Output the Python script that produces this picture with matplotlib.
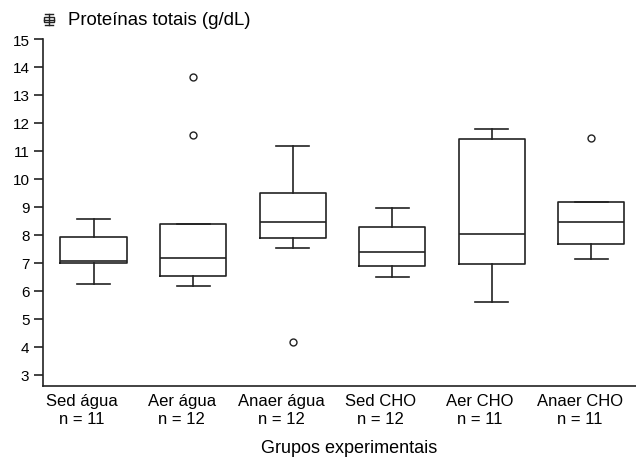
import matplotlib
matplotlib.use("Agg")
import matplotlib.pyplot as plt
from matplotlib.lines import Line2D
from matplotlib.patches import Rectangle
from matplotlib.transforms import ScaledTranslation

plt.rcParams['font.family'] = ['Liberation Sans', 'DejaVu Sans']

groups = ["Sed água", "Aer água", "Anaer água", "Sed CHO", "Aer CHO", "Anaer CHO"]
n_vals = [11, 12, 12, 12, 11, 11]
whislo = [6.22, 6.18, 7.53, 6.48, 5.59, 7.12]
q1 = [6.99, 6.51, 7.87, 6.87, 6.96, 7.66]
med = [7.06, 7.16, 8.46, 7.37, 8.03, 8.45]
q3 = [7.91, 8.39, 9.49, 8.28, 11.42, 9.16]
whishi = [8.56, 8.39, 11.19, 8.96, 11.78, 9.16]
fliers = [[], [11.57, 13.64], [4.16], [], [], [11.46]]

yticks = list(range(3, 16))

W, H = 636, 460
fig = plt.figure(figsize=(W / 100, H / 100), dpi=100)
ax = fig.add_axes([43.3 / W, 1 - 386.7 / H, 1 - 43.3 / W, (386.7 - 40) / H])

stats = []
for i, g in enumerate(groups):
    stats.append(dict(label=f"{g}\nn = {n_vals[i]}", whislo=whislo[i], q1=q1[i],
                      med=med[i], q3=q3[i], whishi=whishi[i], fliers=fliers[i]))

lw = 1.2
col = "#222222"
ax.bxp(stats, positions=range(1, len(groups) + 1), widths=0.665, showfliers=True,
       boxprops=dict(color=col, linewidth=lw),
       whiskerprops=dict(color=col, linewidth=lw),
       capprops=dict(color=col, linewidth=lw),
       medianprops=dict(color=col, linewidth=lw),
       flierprops=dict(marker='o', markerfacecolor='white', markeredgecolor=col,
                       markersize=5, markeredgewidth=1.0),
       capwidths=0.33)

ax.set_xlim(0.495, 6.45)
ax.set_ylim(2.6, 15)
ax.set_yticks(yticks)
ax.spines['top'].set_visible(False)
ax.spines['right'].set_visible(False)
for s in ['left', 'bottom']:
    ax.spines[s].set_linewidth(lw)
    ax.spines[s].set_color(col)
ax.tick_params(axis='y', length=6.5, width=lw, color=col, labelsize=11, pad=3.5)
ax.tick_params(axis='x', length=0, labelsize=12, pad=5)
shift = ScaledTranslation(-11.5 / 100, 0, fig.dpi_scale_trans)
for t in ax.get_xticklabels():
    t.set_linespacing(1.3)
    t.set_transform(t.get_transform() + shift)
ax.set_xlabel("Grupos experimentais", fontsize=13)
ax.xaxis.set_label_coords((349 - 43.3) / (636 - 43.3), -(449 - 386.7) / 346.7)
ax.xaxis.label.set_va('center')

# legend-like title with boxplot icon
def fx(x):
    return x / W
def fy(y):
    return 1 - y / H
fig.add_artist(Line2D([fx(45), fx(52.5)], [fy(15), fy(15)], color=col, lw=1.0))
fig.add_artist(Line2D([fx(48.7), fx(48.7)], [fy(15), fy(26)], color=col, lw=1.0))
fig.add_artist(Rectangle((fx(43.5), fy(23.3)), fx(54) - fx(43.5), fy(18.3) - fy(23.3),
                         facecolor='white', edgecolor=col, lw=1.0))
fig.add_artist(Line2D([fx(43.5), fx(54)], [fy(20.7), fy(20.7)], color=col, lw=1.0))
fig.add_artist(Line2D([fx(45), fx(52.5)], [fy(26), fy(26)], color=col, lw=1.0))
fig.text(fx(67.5), fy(20.5), "Proteínas totais (g/dL)", fontsize=13.4, va='center', ha='left')

fig.savefig("out.png", dpi=100)
